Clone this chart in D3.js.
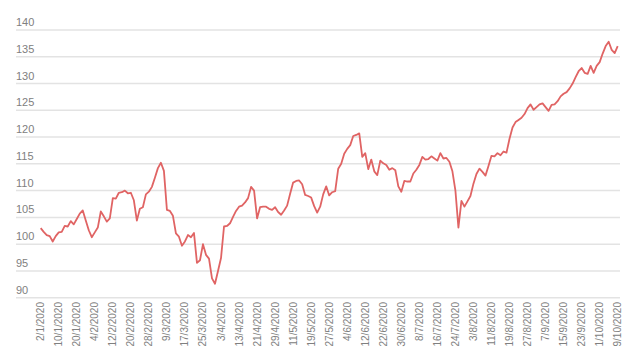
<!DOCTYPE html>
<html>
<head>
<meta charset="utf-8">
<script src="https://cdn.jsdelivr.net/npm/d3@7"></script>
<style>
  html, body { margin: 0; padding: 0; background: #fff; }
  svg { display: block; }
</style>
</head>
<body>
<svg id="chart" width="630" height="357"></svg>
<script>
// Tick labels (one every 6 trading days)
const tickLabels = ["2/1/2020","10/1/2020","20/1/2020","4/2/2020","12/2/2020","20/2/2020","28/2/2020","9/3/2020","17/3/2020","25/3/2020","3/4/2020","13/4/2020","21/4/2020","29/4/2020","11/5/2020","19/5/2020","27/5/2020","4/6/2020","12/6/2020","22/6/2020","30/6/2020","8/7/2020","16/7/2020","24/7/2020","3/8/2020","11/8/2020","19/8/2020","27/8/2020","7/9/2020","15/9/2020","23/9/2020","1/10/2020","9/10/2020"];
const tickStep = 6;

// Y axis ticks
const yTicks = [90, 95, 100, 105, 110, 115, 120, 125, 130, 135, 140];

// Series values (one per trading day)
const values = [
  103.0,102.3,101.7,101.5,100.5,101.5,102.2,102.3,103.4,103.3,
  104.3,103.7,104.7,105.7,106.3,104.4,102.6,101.3,102.2,103.1,
  106.1,105.2,104.2,104.8,108.6,108.5,109.6,109.7,110.0,109.5,
  109.6,108.2,104.4,106.6,106.9,109.3,109.8,110.7,112.4,114.2,
  115.2,113.7,106.4,106.2,105.3,102.0,101.4,99.7,100.5,101.7,
  101.3,102.1,96.5,97.0,100.0,98.0,97.3,93.6,92.6,95.0,
  97.4,103.3,103.4,103.9,105.1,106.2,107.0,107.2,107.8,108.6,
  110.7,110.0,104.8,106.9,107.0,107.0,106.6,106.4,106.9,106.0,
  105.5,106.3,107.2,109.4,111.5,111.8,111.9,111.2,109.2,109.0,
  108.7,107.1,105.9,107.0,109.3,110.8,109.1,109.7,109.9,114.1,
  115.0,116.9,117.8,118.5,120.2,120.4,120.7,116.3,117.0,114.0,
  115.8,113.6,112.9,115.6,115.1,114.8,113.9,114.2,113.8,110.8,
  109.8,111.8,111.7,111.7,113.2,113.9,114.8,116.3,115.8,115.9,
  116.4,116.0,115.6,117.0,116.0,116.1,115.4,113.6,110.0,103.1,
  108.1,107.0,108.0,109.0,111.3,113.1,114.1,113.5,112.8,114.6,
  116.5,116.4,117.0,116.6,117.3,117.1,119.7,121.8,122.8,123.2,
  123.6,124.3,125.4,126.1,125.1,125.6,126.1,126.3,125.6,124.9,
  126.0,126.1,126.7,127.6,128.1,128.4,129.1,130.0,131.2,132.3,
  132.9,132.0,131.8,133.3,132.0,133.3,134.0,135.6,137.0,137.8,
  136.3,135.7,137.0
];

const svg = d3.select("#chart");
const font = "'Liberation Sans', Arial, sans-serif";

const x = d3.scaleLinear().domain([0, values.length - 1]).range([40.7, 617.7]);
const y = d3.scaleLinear().domain([90, 140]).range([297.7, 30]);

// Gridlines
svg.append("g").selectAll("line").data(yTicks).join("line")
  .attr("x1", 16).attr("x2", 620)
  .attr("y1", d => y(d)).attr("y2", d => y(d))
  .attr("stroke", "#e3e3e3").attr("stroke-width", 1.5);

// Y labels (sitting above the gridlines)
svg.append("g").selectAll("text").data(yTicks).join("text")
  .attr("x", 16).attr("y", d => y(d) - 4)
  .attr("font-family", font).attr("font-size", 11)
  .attr("fill", "#808080")
  .text(d => d);

// X labels
svg.append("g").selectAll("text").data(tickLabels).join("text")
  .attr("transform", (d, i) => `translate(${x(i * tickStep)},302) rotate(-90)`)
  .attr("text-anchor", "end").attr("dy", "0.35em")
  .attr("font-family", font).attr("font-size", 10)
  .attr("fill", "#808080")
  .text(d => d);

// Line
const line = d3.line().x((d, i) => x(i)).y(d => y(d));
svg.append("path").datum(values)
  .attr("d", line)
  .attr("fill", "none")
  .attr("stroke", "#e06464")
  .attr("stroke-width", 1.8)
  .attr("stroke-linejoin", "round");
</script>
</body>
</html>
